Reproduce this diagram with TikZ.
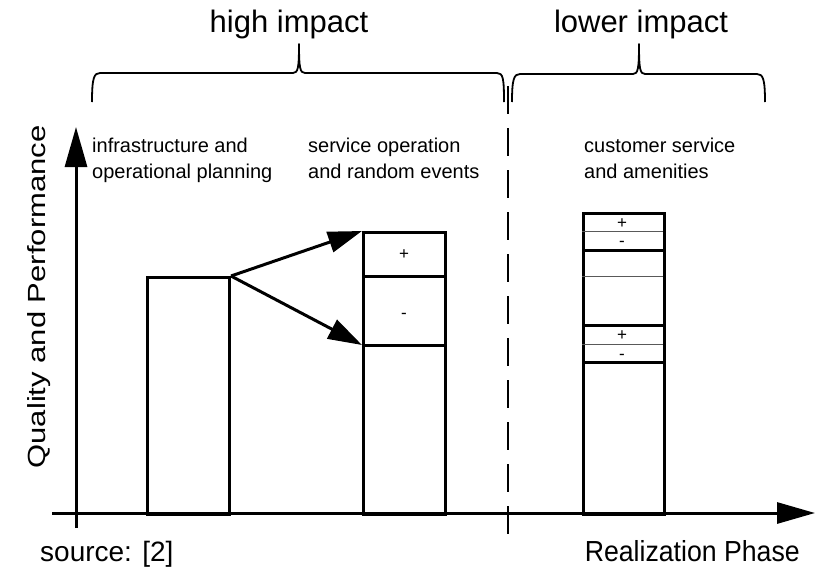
\documentclass[tikz,border=0pt]{standalone}
\usepackage{fontspec}
\setmainfont{Liberation Sans}
\usetikzlibrary{arrows.meta}

\tikzset{
  bar/.style={draw=black, line width=3pt},
  thin/.style={draw=black!65, line width=1pt},
  axis/.style={line width=3pt, -{Triangle[length=40pt,width=22pt]}},
  jump/.style={line width=3pt, -{Triangle[length=34pt,width=21pt]}},
  brace/.style={line width=1.8pt, line join=round},
  head/.style={font=\fontsize{31}{36}\selectfont, inner sep=0pt, anchor=base},
  lbl/.style={font=\fontsize{20}{24}\selectfont, inner sep=0pt, anchor=base west},
  sign/.style={font=\fontsize{17}{18}\selectfont, inner sep=0pt, anchor=base},
}

\begin{document}
\begin{tikzpicture}[x=1pt,y=-1pt]
  \path[use as bounding box] (0,0) rectangle (816,570);

  % headings above the braces
  \node[head] (hi) at (289,32) {high impact};
  \node[head] (lo) at (641,32) {lower impact};

  % curly braces
  \draw[brace] (92,102) .. controls (92,78) and (94,73) .. (100,73)
     -- (293,73) .. controls (298,73) and (299,68) .. (299,44)
     .. controls (299,68) and (300,73) .. (305,73)
     -- (497,73) .. controls (503,73) and (504,78) .. (504,102);
  \draw[brace] (512,102) .. controls (512,79) and (514,74) .. (520,74)
     -- (633,74) .. controls (638,74) and (639,69) .. (639,44)
     .. controls (639,69) and (640,74) .. (645,74)
     -- (757,74) .. controls (763,74) and (765,79) .. (765,102);

  % phase separator
  \coordinate (sepT) at (508,86);
  \coordinate (sepB) at (508,545);
  \draw[line width=2pt, dash pattern=on 28pt off 14pt] (sepT) -- (sepB);

  % axes
  \coordinate (ybot) at (76,528);
  \coordinate (ytop) at (76,127);
  \coordinate (xleft) at (52,513);
  \coordinate (xright) at (815,513);
  \draw[axis] (ybot) -- (ytop);
  \draw[line width=3pt, -{Triangle[length=38pt,width=21pt]}] (xleft) -- (xright);

  \node[font=\fontsize{31}{36}\selectfont, rotate=90, inner sep=0pt]
    (ylab) at (39,297) {\scalebox{1}[0.8]{Quality and Performance}};
  \node[font=\fontsize{28}{32}\selectfont, inner sep=0pt, anchor=base west]
    (src) at (40,561) {source: [2]};
  \node[font=\fontsize{29}{34}\selectfont, inner sep=0pt, anchor=base east]
    (xlab) at (800,561) {\scalebox{0.92}[1]{Realization Phase}};

  % column captions
  \node[lbl] (c1a) at (92,152) {infrastructure and};
  \node[lbl] (c1b) at (92,178) {operational planning};
  \node[lbl] (c2a) at (308,152) {service operation};
  \node[lbl] (c2b) at (308,178) {and random events};
  \node[lbl] (c3a) at (584,152) {customer service};
  \node[lbl] (c3b) at (584,178) {and amenities};

  % planning bar
  \node[bar, minimum width=82pt, minimum height=237pt, inner sep=0pt,
        anchor=north west] (b1) at (146,276) {};

  % operation bar
  \node[bar, minimum width=82pt, minimum height=282pt, inner sep=0pt,
        anchor=north west] (b2) at (362,231) {};
  \coordinate (b2p) at (362,276);
  \coordinate (b2m) at (362,345);
  \draw[bar] (b2p) -- (444,276);
  \draw[bar] (b2m) -- (444,345);
  \node[sign] (b2plus) at (404,259) {+};
  \node[sign] (b2minus) at (404,318) {-};

  % amenities bar
  \node[bar, minimum width=81pt, minimum height=301pt, inner sep=0pt,
        anchor=north west] (b3) at (582,212) {};
  \draw[thin] (582,231) -- (663,231);
  \draw[bar] (582,250) -- (663,250);
  \draw[thin] (582,276) -- (663,276);
  \draw[bar] (582,325) -- (663,325);
  \draw[thin] (582,344) -- (663,344);
  \draw[bar] (582,362) -- (663,362);
  \node[sign] (s1) at (622,228) {+};
  \node[sign] (s2) at (622,246) {-};
  \node[sign] (s3) at (622,340) {+};
  \node[sign] (s4) at (622,359) {-};

  % outcome arrows
  \draw[jump] (b1.north east) -- (b2.north west);
  \draw[jump] (b1.north east) -- (b2m);
\end{tikzpicture}
\end{document}
